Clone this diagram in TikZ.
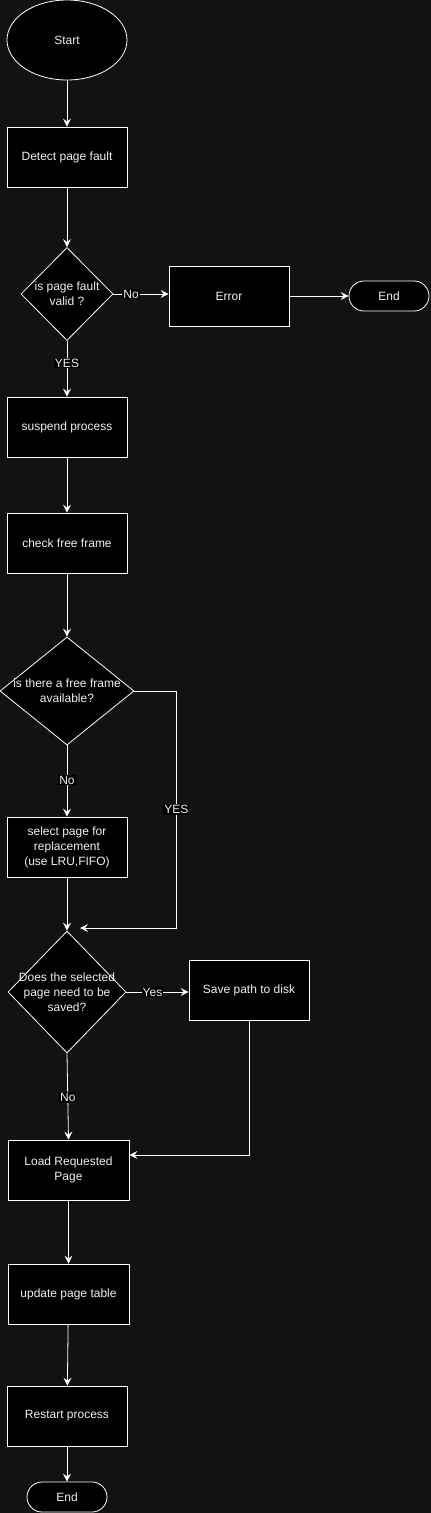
\documentclass[tikz,border=0pt]{standalone}
\usepackage{fontspec}
\setmainfont{Liberation Sans}
\usetikzlibrary{shapes.geometric,arrows.meta,calc}
\definecolor{bg}{HTML}{121212}
\definecolor{txt}{HTML}{F0F0F0}
\begin{document}
\begin{tikzpicture}[x=1pt,y=-1pt,
  box/.style={draw=white, fill=black, text=txt, minimum width=120pt, minimum height=60pt, inner sep=0pt, align=center, line width=0.8pt, font=\fontsize{12}{15}\selectfont},
  ell/.style={ellipse, draw=white, fill=black, text=txt, minimum width=120pt, minimum height=80pt, inner sep=0pt, line width=0.8pt, font=\fontsize{12}{15}\selectfont},
  term/.style={draw=white, fill=black, text=txt, rounded corners=15pt, minimum width=80pt, minimum height=30pt, inner sep=0pt, line width=0.8pt, font=\fontsize{12}{15}\selectfont},
  dia/.style={diamond, draw=white, fill=black, inner sep=0pt, line width=0.8pt},
  dtext/.style={text=txt, align=center, font=\fontsize{12}{15}\selectfont},
  lbl/.style={fill=black, text=txt, inner sep=1pt, font=\fontsize{12}{14}\selectfont},
  arr/.style={draw=white, line width=0.8pt, -{Stealth[length=8pt,width=8pt,inset=3pt]}}
]
\useasboundingbox[fill=bg] (0,0) rectangle (431,1513);

\node[ell] (start) at (67,40) {Start};
\node[box] (detect) at (67,157) {Detect page fault};
\node[dia, minimum width=92pt, minimum height=93pt, label={[dtext]center:{is page fault\\valid ?}}] (d1) at (67,294) {};
\node[box] (error) at (229,296) {Error};
\node[term] (end1) at (389,296) {End};
\node[box] (suspend) at (67,427) {suspend process};
\node[box] (check) at (67,543) {check free frame};
\node[dia, minimum width=134pt, minimum height=108pt, label={[dtext]center:{is there a free frame\\available?}}] (d2) at (67,691) {};
\node[box] (select) at (67,847) {select page for\\replacement\\(use LRU,FIFO)};
\node[dia, minimum width=118pt, minimum height=122pt, label={[dtext]center:{Does the selected\\page need to be\\saved?}}] (d3) at (67,992) {};
\node[box] (save) at (249,990) {Save path to disk};
\node[box, minimum width=121pt] (load) at (68.5,1170) {Load Requested\\Page};
\node[box, minimum width=121pt] (update) at (68.5,1294) {update page table};
\node[box] (restart) at (67,1416) {Restart process};
\node[term] (end2) at (67,1497) {End};
\coordinate (yend) at (80,928);

\draw[arr] (start) -- (detect);
\draw[arr] (detect) -- (d1);
\draw[arr] (d1.east) -- node[lbl, pos=0.32] {No} (error.west |- d1.east);
\draw[arr] (error) -- (end1);
\draw[arr] (d1.south) -- node[lbl, pos=0.4] {YES} (suspend.north);
\draw[arr] (suspend) -- (check);
\draw[arr] (check) -- (d2);
\draw[arr] (d2.south) -- node[lbl, pos=0.49] {No} (select.north);
\draw[arr] (d2.east) -- ++(42,0) |- node[lbl, pos=0.25] {YES} (yend);
\draw[arr] (select) -- (d3);
\draw[arr] (d3.east) -- node[lbl, pos=0.42] {Yes} (save.west |- d3.east);
\draw[arr] (d3.south) -- node[lbl, pos=0.51] {No} (load.north);
\draw[arr] (save.south) |- ($(load.east)+(0,-15)$);
\draw[arr] (load) -- (update);
\draw[arr] (update) -- (restart);
\draw[arr] (restart) -- (end2);
\end{tikzpicture}
\end{document}
